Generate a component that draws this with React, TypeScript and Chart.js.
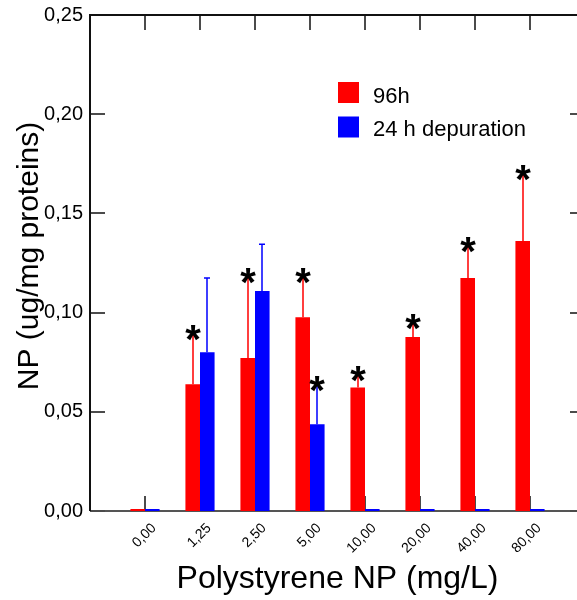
import { useEffect, useRef } from "react";
import { Chart, registerables } from "chart.js";

Chart.register(...registerables);

// Nanoplastic content per sampling time and concentration
const concentrations = ["0,00", "1,25", "2,50", "5,00", "10,00", "20,00", "40,00", "80,00"];
const exposure96h = [0, 0.0639, 0.0771, 0.0976, 0.0623, 0.0877, 0.1174, 0.1361];
const exposure96hSd = [0, 0.0247, 0.0403, 0.0196, 0.0058, 0.0064, 0.0157, 0.0331];
const depuration24h = [0, 0.08, 0.1109, 0.0437, 0, 0, 0, 0];
const depuration24hSd = [0, 0.0374, 0.0235, 0.0195, 0, 0, 0, 0];
const significant96h = [false, true, true, true, true, true, true, true];
const significant24h = [false, false, false, true, false, false, false, false];
const yTicks = [0, 0.05, 0.1, 0.15, 0.2, 0.25];

const seriesNames = ["96h", "24 h depuration"];
const seriesColors = ["#ff0000", "#0000ff"];
const FONT = "'Liberation Sans', Arial, sans-serif";

// empty slots at both ends leave a full category gap next to each side of the frame
const labels = ["", ...concentrations, ""];
const pad = (arr: number[]) => [null, ...arr, null];

const framePlugin = {
  id: "frame",
  beforeDatasetsDraw(chart: any) {
    const { ctx, chartArea, scales } = chart;
    const { left, right, top, bottom } = chartArea;
    const tick = 15;
    ctx.save();
    // inward ticks on the value axis (left and right)
    ctx.strokeStyle = "#111";
    ctx.lineWidth = 1.5;
    yTicks.forEach((v) => {
      const y = Math.round(scales.y.getPixelForValue(v));
      ctx.beginPath();
      ctx.moveTo(left, y);
      ctx.lineTo(left + tick, y);
      ctx.moveTo(right, y);
      ctx.lineTo(right - tick, y);
      ctx.stroke();
    });
    // inward ticks on the category axis (top and bottom)
    concentrations.forEach((_, i) => {
      const x = Math.round(scales.x.getPixelForValue(i + 1));
      ctx.beginPath();
      ctx.moveTo(x, top);
      ctx.lineTo(x, top + tick);
      ctx.moveTo(x, bottom);
      ctx.lineTo(x, bottom - tick);
      ctx.stroke();
    });
    // frame
    ctx.lineWidth = 2;
    ctx.strokeStyle = "#111";
    ctx.beginPath();
    ctx.moveTo(left, bottom);
    ctx.lineTo(left, top);
    ctx.lineTo(right, top);
    ctx.lineTo(right, bottom);
    ctx.stroke();
    ctx.strokeStyle = "#555";
    ctx.beginPath();
    ctx.moveTo(left + tick, bottom);
    ctx.lineTo(right - tick, bottom);
    ctx.stroke();
    ctx.restore();
  },
};

const errorBarPlugin = {
  id: "errorBars",
  afterDatasetsDraw(chart: any) {
    const { ctx, scales } = chart;
    const sds = [exposure96hSd, depuration24hSd];
    const means = [exposure96h, depuration24h];
    const marks = [significant96h, significant24h];
    chart.data.datasets.forEach((_: any, d: number) => {
      const meta = chart.getDatasetMeta(d);
      means[d].forEach((m, i) => {
        const bar = meta.data[i + 1];
        if (!bar) return;
        const x = Math.round(bar.x);
        const yTop = scales.y.getPixelForValue(m + sds[d][i]);
        if (sds[d][i] > 0) {
          ctx.save();
          ctx.lineWidth = 1.5;
          ctx.strokeStyle = seriesColors[d];
          ctx.beginPath();
          ctx.moveTo(x, bar.y);
          ctx.lineTo(x, yTop);
          ctx.moveTo(x - 3, yTop);
          ctx.lineTo(x + 3, yTop);
          ctx.stroke();
          ctx.restore();
        }
        if (marks[d][i]) {
          ctx.save();
          ctx.fillStyle = "#000";
          ctx.font = `bold 40px ${FONT}`;
          ctx.textAlign = "center";
          ctx.textBaseline = "alphabetic";
          const mt = ctx.measureText("*");
          const lift = (mt.actualBoundingBoxAscent - mt.actualBoundingBoxDescent) / 2;
          ctx.fillText("*", x, yTop - 2 + lift);
          ctx.restore();
        }
      });
    });
  },
};

const annotationPlugin = {
  id: "annotations",
  afterDraw(chart: any) {
    const { ctx, chartArea } = chart;
    ctx.save();
    // legend
    const lx = chartArea.left + 248;
    const ly = chartArea.top + 67;
    seriesNames.forEach((name, i) => {
      ctx.fillStyle = seriesColors[i];
      ctx.fillRect(lx, ly + i * 34.5, 21, 21);
      ctx.fillStyle = "#000";
      ctx.font = `22px ${FONT}`;
      ctx.textAlign = "left";
      ctx.textBaseline = "alphabetic";
      ctx.fillText(name, lx + 35, ly + i * 33 + 21);
    });
    // value axis title
    ctx.translate(chartArea.left - 60, (chartArea.top + chartArea.bottom) / 2 - 7);
    ctx.rotate(-Math.PI / 2);
    ctx.font = `30px ${FONT}`;
    ctx.textAlign = "center";
    ctx.textBaseline = "middle";
    ctx.fillText("NP (ug/mg proteins)", 0, 0);
    ctx.restore();
  },
};

export default function App() {
  const canvasRef = useRef<HTMLCanvasElement>(null);

  useEffect(() => {
    if (!canvasRef.current) return;
    const chart = new Chart(canvasRef.current, {
      type: "bar",
      data: {
        labels,
        datasets: [
          {
            label: seriesNames[0],
            data: pad(exposure96h),
            backgroundColor: seriesColors[0],
            borderWidth: 0,
            minBarLength: 2,
            categoryPercentage: 0.53,
            barPercentage: 1,
          },
          {
            label: seriesNames[1],
            data: pad(depuration24h),
            backgroundColor: seriesColors[1],
            borderWidth: 0,
            minBarLength: 2,
            categoryPercentage: 0.53,
            barPercentage: 1,
          },
        ],
      },
      options: {
        responsive: false,
        animation: false,
        devicePixelRatio: 1,
        layout: { padding: { top: 15, right: 15, left: 0, bottom: 0 } },
        plugins: { legend: { display: false }, tooltip: { enabled: false } },
        scales: {
          x: {
            type: "category",
            offset: false,
            grid: { display: false, drawTicks: false },
            border: { display: false },
            ticks: {
              autoSkip: false,
              minRotation: 45,
              maxRotation: 45,
              padding: 9,
              labelOffset: 9,
              color: "#000",
              font: { family: FONT, size: 14 },
            },
            title: {
              display: true,
              text: "Polystyrene NP (mg/L)",
              color: "#000",
              font: { family: FONT, size: 32 },
              padding: { top: 0, bottom: 2 },
            },
            afterFit: (s: any) => {
              s.height = 89;
              s.paddingLeft = 0;
              s.paddingRight = 0;
            },
          },
          y: {
            min: 0,
            max: 0.25,
            afterBuildTicks: (s: any) => {
              s.ticks = yTicks.map((value) => ({ value }));
            },
            grid: { display: false, drawTicks: false },
            border: { display: false },
            ticks: {
              padding: 7,
              color: "#000",
              font: { family: FONT, size: 20 },
              callback: (v: any) => Number(v).toFixed(2).replace(".", ","),
            },
            afterFit: (s: any) => {
              s.width = 90;
              s.paddingTop = 0;
              s.paddingBottom = 0;
            },
          },
        },
      },
      plugins: [framePlugin, errorBarPlugin, annotationPlugin],
    });
    return () => chart.destroy();
  }, []);

  return (
    <div
      style={{
        position: "fixed",
        left: 0,
        top: 0,
        width: 577,
        height: 600,
        overflow: "hidden",
        background: "#fff",
      }}
    >
      <canvas ref={canvasRef} width={600} height={600} style={{ display: "block" }} />
    </div>
  );
}
